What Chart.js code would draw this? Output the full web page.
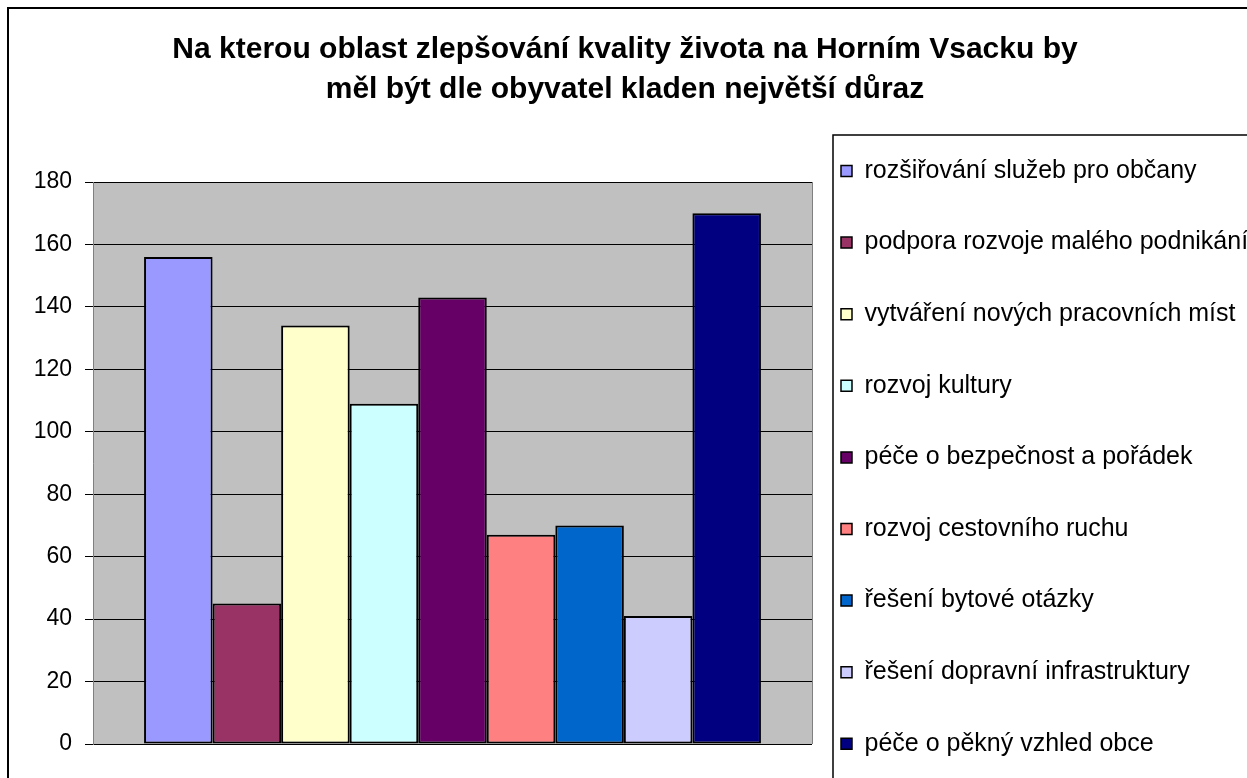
<!DOCTYPE html>
<html>
<head>
<meta charset="utf-8">
<script src="https://cdn.jsdelivr.net/npm/chart.js@4/dist/chart.umd.min.js"></script>
<style>
  html, body { margin: 0; padding: 0; background: #fff; overflow: hidden; }
  #wrap { width: 1250px; height: 830px; }
</style>
</head>
<body>
<div id="wrap"><canvas id="myChart" width="1250" height="830"></canvas></div>
<script>
// chart data
const titleLines = [
	"Na kterou oblast zlepšování kvality života na Horním Vsacku by",
	"měl být dle obyvatel kladen největší důraz"
];
const categories = [""];
const seriesNames = [
	"rozšiřování služeb pro občany",
	"podpora rozvoje malého podnikání",
	"vytváření nových pracovních míst",
	"rozvoj kultury",
	"péče o bezpečnost a pořádek",
	"rozvoj cestovního ruchu",
	"řešení bytové otázky",
	"řešení dopravní infrastruktury",
	"péče o pěkný vzhled obce"
];
const seriesValues = [156, 45, 134, 109, 143, 67, 70, 41, 170];
const seriesColors = ["#9999FF", "#993366", "#FFFFCC", "#CCFFFF", "#660066", "#FF8080", "#0066CC", "#CCCCFF", "#000080"];
const yTicks = { min: 0, max: 180, step: 20 };

const FONT = "'Liberation Sans', Arial, sans-serif";

// grey plot background, plot frame and outer / legend borders
const excelLook = {
	id: 'excelLook',
	beforeDraw: (chart) => {
		const { ctx, chartArea: a } = chart;
		ctx.save();
		ctx.fillStyle = '#C0C0C0';
		ctx.fillRect(a.left, a.top, a.right - a.left, a.bottom - a.top);
		ctx.restore();
	},
	afterDatasetsDraw: (chart) => {
		const { ctx, chartArea: a } = chart;
		ctx.save();
		ctx.strokeStyle = '#808080';
		ctx.lineWidth = 1;
		ctx.beginPath();
		ctx.moveTo(a.right + 0.5, a.top);
		ctx.lineTo(a.right + 0.5, a.bottom);
		ctx.stroke();
		ctx.restore();
	},
	afterDraw: (chart) => {
		const ctx = chart.ctx;
		const lg = chart.legend;
		ctx.save();
		ctx.strokeStyle = '#000';
		ctx.lineWidth = 2;
		ctx.strokeRect(8, 8, chart.width + 20, chart.height + 20);
		ctx.lineWidth = 1.5;
		ctx.strokeRect(lg.left + 21, lg.top + 135, 600, 900);
		ctx.restore();
	}
};

const drawChart = () => {
	const chartEl = document.getElementById('myChart');
	const datasets = seriesNames.map((name, i) => ({
		label: name,
		data: [seriesValues[i]],
		backgroundColor: seriesColors[i],
		borderColor: '#000',
		borderWidth: 2,
		borderSkipped: false
	}));

	new Chart(chartEl, {
		type: 'bar',
		data: { labels: categories, datasets: datasets },
		plugins: [excelLook],
		options: {
			responsive: false,
			animation: false,
			categoryPercentage: 0.858,
			barPercentage: 1,
			layout: { padding: 0 },
			plugins: {
				tooltip: { enabled: false },
				title: {
					display: true,
					text: titleLines,
					color: '#000',
					font: { family: FONT, size: 30, weight: 'bold', lineHeight: 40 / 30 },
					padding: { top: 30, bottom: 72 }
				},
				legend: {
					display: true,
					position: 'right',
					align: 'start',
					maxWidth: 438,
					title: {
						display: true,
						text: ' ',
						font: { size: 10, lineHeight: 1 },
						padding: { top: 119.5, bottom: 0 }
					},
					labels: {
						color: '#000',
						boxWidth: 11,
						boxHeight: 11,
						padding: 29,
						font: { family: FONT, size: 25, lineHeight: 42.6 / 25 },
						generateLabels: (chart) =>
							Chart.defaults.plugins.legend.labels.generateLabels(chart)
								.map(item => ({ ...item, text: [item.text], lineWidth: 1.5 }))
					}
				}
			},
			scales: {
				x: {
					display: true,
					grid: { display: false },
					border: { display: false },
					ticks: { display: false },
					afterFit: (scale) => { scale.height = 86; }
				},
				y: {
					min: yTicks.min,
					max: yTicks.max,
					afterFit: (scale) => { scale.width = 93; },
					ticks: {
						stepSize: yTicks.step,
						color: '#000',
						padding: 13,
						font: { family: FONT, size: 23 }
					},
					grid: {
						color: '#000',
						tickColor: '#000',
						tickLength: 8,
						lineWidth: 1
					},
					border: { display: true, color: '#808080', width: 1 }
				}
			}
		}
	});
};

drawChart();
</script>
</body>
</html>
